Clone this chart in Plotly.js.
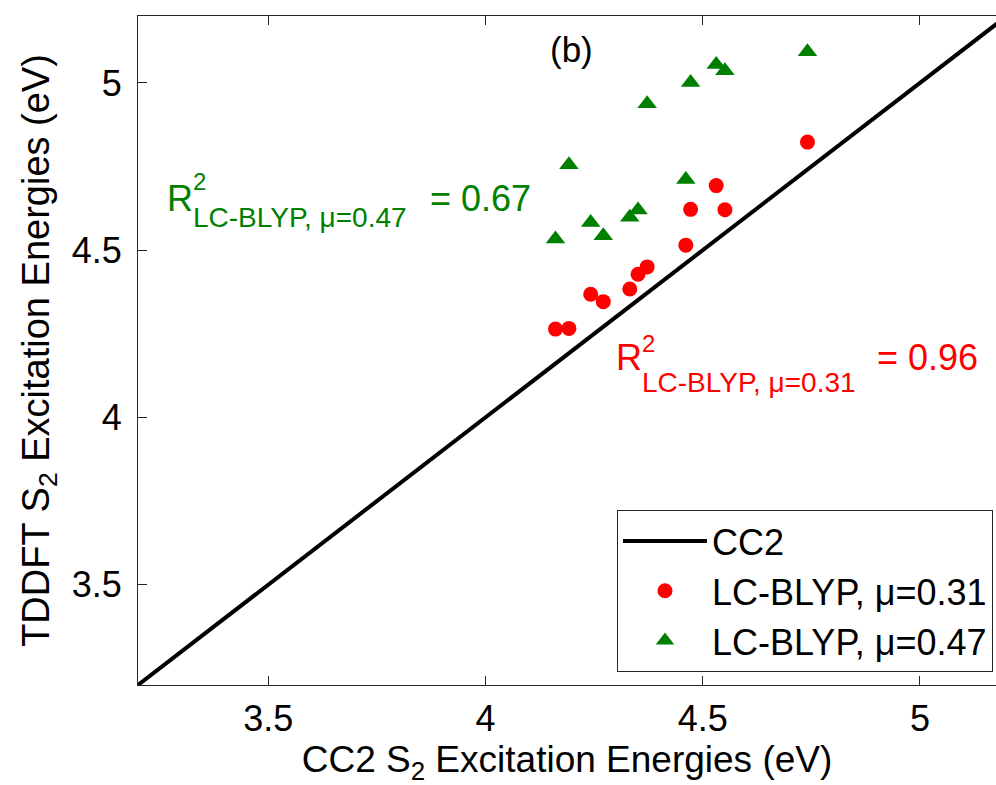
<!DOCTYPE html>
<html>
<head>
<meta charset="utf-8">
<script src="https://cdn.plot.ly/plotly-3.0.1.min.js"></script>
<style>html,body{margin:0;padding:0;background:#fff;overflow:hidden;}</style>
</head>
<body>
<div id="chart" style="width:996px;height:785px;"></div>
<script>
// ---- data ----
const cc2Energies = [4.161, 4.192, 4.242, 4.271, 4.332, 4.351, 4.372, 4.461, 4.472, 4.531, 4.551, 4.741];
const lcblyp031 = [4.264, 4.266, 4.368, 4.346, 4.384, 4.428, 4.450, 4.515, 4.622, 4.693, 4.621, 4.823];
const lcblyp047 = [4.533, 4.755, 4.583, 4.543, 4.598, 4.620, 4.938, 4.711, 5.001, 5.055, 5.036, 5.093];
const cc2LineX = [3.2, 5.2];
const cc2LineY = [3.2, 5.2];
const tickVals = [3.5, 4, 4.5, 5];
const tickText = ['3.5', '4', '4.5', '5'];
const seriesNames = ['CC2', 'LC-BLYP, \u03bc=0.31', 'LC-BLYP, \u03bc=0.47'];
const r2Values = ['0.96', '0.67'];
const panelLabel = '(b)';

// ---- layout helpers ----
const W = 996, H = 785, ML = 138, MR = 0, MT = 16, MB = 100;
const PW = W - ML - MR, PH = H - MT - MB;
const px = x => (x - ML) / PW;
const py = y => (H - MB - y) / PH;
const FONT = 'Liberation Sans, Arial, sans-serif';
const RED = '#ff0000', GREEN = '#008000', AX = '#262626';

const traces = [
  {x: cc2LineX, y: cc2LineY, mode: 'lines', name: seriesNames[0],
   line: {color: '#000', width: 4}, legendgroup: 'a'},
  {x: cc2Energies, y: lcblyp031, mode: 'markers', name: seriesNames[1],
   marker: {color: RED, size: 15, symbol: 'circle'}, legendgroup: 'b'},
  {x: cc2Energies, y: lcblyp047, mode: 'markers', name: seriesNames[2],
   marker: {color: GREEN, size: 17, symbol: 'triangle-up'}, legendgroup: 'c'}
];

function ann(text, x, y, size, color, xanchor) {
  return {text: text, xref: 'paper', yref: 'paper', x: px(x), y: py(y),
    xanchor: xanchor || 'left', yanchor: 'middle', showarrow: false,
    font: {family: FONT, size: size, color: color}, borderpad: 0};
}

const annotations = [
  ann(panelLabel, 571, 49, 35, '#000', 'center'),
  // green R^2
  ann('R', 166, 198, 36, GREEN),
  ann('2', 192, 181, 24, GREEN),
  ann('LC-BLYP, \u03bc=0.47', 192, 218, 28, GREEN),
  ann('= ' + r2Values[1], 429, 198, 36, GREEN),
  // red R^2
  ann('R', 615, 357, 36, RED),
  ann('2', 641, 343, 24, RED),
  ann('LC-BLYP, \u03bc=0.31', 641, 382, 28, RED),
  ann('= ' + r2Values[0], 876, 357, 36, RED)
];

const layout = {
  width: W, height: H,
  margin: {l: ML, r: MR, t: MT, b: MB, pad: 0},
  paper_bgcolor: '#fff', plot_bgcolor: '#fff',
  font: {family: FONT, size: 36, color: '#000'},
  showlegend: true,
  hovermode: false,
  xaxis: {
    range: [3.2, 5.175], tickvals: tickVals, ticktext: tickText,
    ticks: 'inside', ticklen: 9, tickwidth: 1, tickcolor: AX,
    showline: true, linecolor: AX, linewidth: 1, showgrid: false, zeroline: false,
    ticklabelstandoff: 2,
    tickfont: {family: FONT, size: 36, color: '#000'},
    title: {text: 'CC2 S<sub>2</sub> Excitation Energies (eV)', standoff: 1,
            font: {family: FONT, size: 37, color: '#000'}}
  },
  xaxis2: {
    overlaying: 'x', side: 'top', range: [3.2, 5.175], tickvals: tickVals,
    ticks: 'inside', ticklen: 9, tickwidth: 1, tickcolor: AX,
    showticklabels: false, showline: true, linecolor: AX, linewidth: 1,
    showgrid: false, zeroline: false
  },
  yaxis: {
    range: [3.2, 5.2], tickvals: tickVals, ticktext: tickText,
    ticks: 'inside', ticklen: 9, tickwidth: 1, tickcolor: AX,
    showline: true, linecolor: AX, linewidth: 1, showgrid: false, zeroline: false,
    ticklabelstandoff: 8,
    tickfont: {family: FONT, size: 36, color: '#000'},
    title: {text: 'TDDFT S<sub>2</sub> Excitation Energies (eV)', standoff: 10,
            font: {family: FONT, size: 38, color: '#000'}}
  },
  legend: {
    x: px(993), y: py(672), xanchor: 'right', yanchor: 'bottom',
    bgcolor: '#fff', bordercolor: AX, borderwidth: 1,
    font: {family: FONT, size: 36, color: '#000'},
    tracegroupgap: 0, itemwidth: 84, traceorder: 'normal'
  },
  annotations: annotations
};

// invisible helper trace so the top (mirror) axis with its ticks is rendered
traces.push({x: cc2LineX, y: cc2LineY, xaxis: 'x2', yaxis: 'y', mode: 'lines',
  line: {width: 0, color: 'rgba(0,0,0,0)'}, showlegend: false, hoverinfo: 'skip'});

Plotly.newPlot('chart', traces, layout, {displayModeBar: false, staticPlot: true});
</script>
</body>
</html>
